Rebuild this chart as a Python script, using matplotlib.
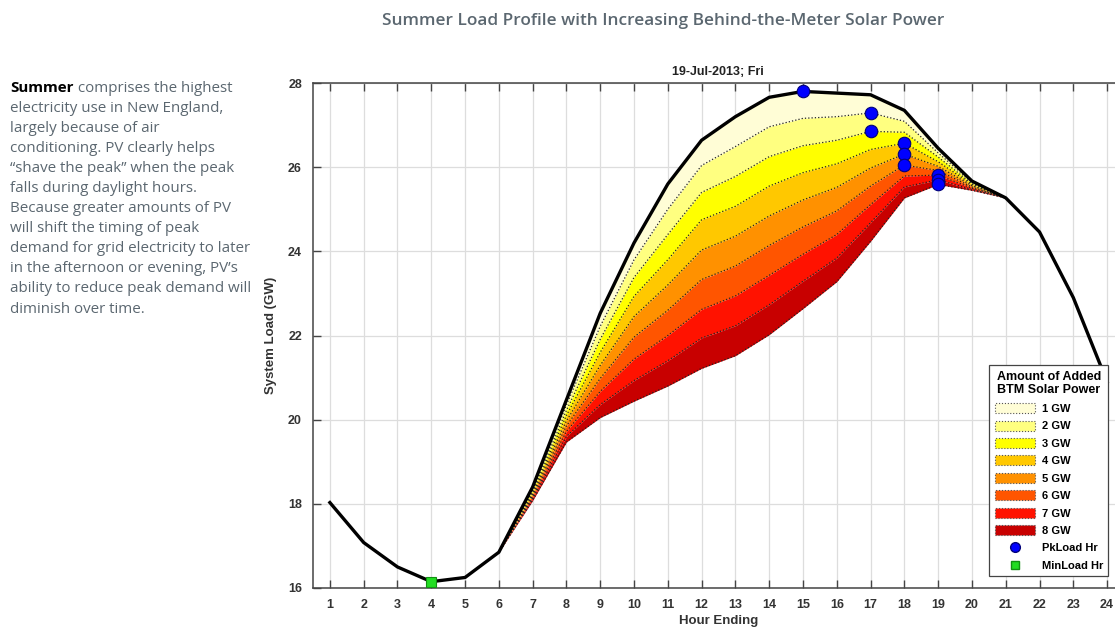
import numpy as np
import matplotlib.pyplot as plt
from matplotlib.patches import Patch
from matplotlib.lines import Line2D

# hourly system load, 19-Jul-2013 (GW)
hours = np.arange(1, 25)
base_load = [18.03, 17.08, 16.50, 16.15, 16.25, 16.85, 18.40, 20.47, 22.53, 24.20, 25.60, 26.64,
             27.20, 27.66, 27.80, 27.76, 27.72, 27.35, 26.45, 25.67, 25.27, 24.46, 22.90, 20.90]

# load net of added BTM solar, hours 6..21 (outside these the curves equal the base load)
pv_hours = np.arange(6, 22)
net_1gw = [16.85, 18.36, 20.35, 22.22, 23.80, 25.00, 26.04, 26.49, 26.96, 27.16, 27.20, 27.29, 27.09, 26.34, 25.64, 25.27]
net_2gw = [16.85, 18.32, 20.22, 21.91, 23.38, 24.40, 25.40, 25.78, 26.25, 26.51, 26.64, 26.85, 26.83, 26.24, 25.61, 25.27]
net_3gw = [16.85, 18.28, 20.10, 21.60, 22.93, 23.80, 24.75, 25.07, 25.55, 25.87, 26.08, 26.42, 26.57, 26.13, 25.59, 25.27]
net_4gw = [16.85, 18.24, 19.97, 21.29, 22.45, 23.20, 24.03, 24.36, 24.84, 25.22, 25.52, 25.98, 26.31, 26.02, 25.56, 25.27]
net_5gw = [16.85, 18.20, 19.85, 20.98, 21.96, 22.60, 23.33, 23.65, 24.14, 24.58, 24.96, 25.55, 26.05, 25.92, 25.53, 25.27]
net_6gw = [16.85, 18.16, 19.72, 20.67, 21.44, 22.00, 22.62, 22.94, 23.43, 23.93, 24.40, 25.11, 25.79, 25.81, 25.50, 25.27]
net_7gw = [16.85, 18.12, 19.60, 20.36, 20.93, 21.40, 21.94, 22.23, 22.73, 23.29, 23.84, 24.68, 25.53, 25.70, 25.47, 25.27]
net_8gw = [16.85, 18.08, 19.47, 20.05, 20.44, 20.80, 21.22, 21.52, 22.02, 22.64, 23.28, 24.24, 25.27, 25.59, 25.45, 25.27]
layers = [net_1gw, net_2gw, net_3gw, net_4gw, net_5gw, net_6gw, net_7gw, net_8gw]
layer_labels = ['1 GW', '2 GW', '3 GW', '4 GW', '5 GW', '6 GW', '7 GW', '8 GW']
layer_colors = ['#FFFDD6', '#FFFF80', '#FFFF00', '#FFC800', '#FF9100', '#FF5500', '#FF1200', '#C80000']

chart_font = 'Liberation Sans'
page_font = 'Open Sans'
grey_text = '#5b6770'

fig = plt.figure(figsize=(11.15, 6.3), dpi=100)

# chart
ax = fig.add_axes([313 / 1115, 42 / 630, 811 / 1115, 505 / 630])
ax.set_xlim(0.5, 24.5)
ax.set_ylim(16, 28)

# page title and side text
fig.text(0.595, 0.966, 'Summer Load Profile with Increasing Behind-the-Meter Solar Power',
         ha='center', va='center', fontsize=12.4, fontweight='semibold',
         family=page_font, color=grey_text)

side_lines = ['electricity use in New England,',
              'largely because of air',
              'conditioning. PV clearly helps',
              '\u201cshave the peak\u201d when the peak',
              'falls during daylight hours.',
              'Because greater amounts of PV',
              'will shift the timing of peak',
              'demand for grid electricity to later',
              'in the afternoon or evening, PV\u2019s',
              'ability to reduce peak demand will',
              'diminish over time.']
x0 = 10 / 1115
y0 = 1 - 88 / 630
step = 20.1 / 630
t = fig.text(x0, y0, 'Summer', fontsize=10.9, fontweight='bold', family=page_font,
             color='black', va='center')
ax.annotate(' comprises the highest', xy=(1, 0.5), xycoords=t, va='center',
            fontsize=10.9, family=page_font, color=grey_text, annotation_clip=False)
for i, line in enumerate(side_lines):
    fig.text(x0, y0 - (i + 1) * step, line, fontsize=10.9, family=page_font,
             color=grey_text, va='center')

upper = base_load[5:21]
for vals, col in zip(layers, layer_colors):
    ax.fill_between(pv_hours, upper, vals, color=col, linewidth=0, zorder=2)
    ax.plot(pv_hours, vals, color='#222222', linestyle=':', linewidth=0.9, zorder=3)
    upper = vals

ax.plot(hours, base_load, color='black', linewidth=2.4, zorder=4)

# peak hour markers (base + each added solar case) and min load marker
pk_x = [hours[int(np.argmax(base_load))]]
pk_y = [max(base_load)]
for vals in layers:
    j = int(np.argmax(vals))
    pk_x.append(pv_hours[j])
    pk_y.append(vals[j])
ax.plot(pk_x, pk_y, linestyle='none', marker='o', markersize=9,
        markerfacecolor='#0000FF', markeredgecolor='#00007A', markeredgewidth=0.8, zorder=5)
imin = int(np.argmin(base_load))
ax.plot(hours[imin], base_load[imin], linestyle='none', marker='s', markersize=7,
        markerfacecolor='#22DD22', markeredgecolor='#129012', markeredgewidth=0.8, zorder=5)

ax.set_xticks(hours)
ax.set_yticks(np.arange(16, 29, 2))
ax.grid(True, color='#dddddd', linewidth=0.9, zorder=0)
ax.set_axisbelow(True)
ax.tick_params(direction='in', length=6, width=1, colors='#444444', top=True, right=True,
               labelsize=9, pad=8)
for lab in ax.get_xticklabels() + ax.get_yticklabels():
    lab.set_fontweight('bold')
    lab.set_family(chart_font)
    lab.set_color('#333333')
for sp in ax.spines.values():
    sp.set_color('#444444')
    sp.set_linewidth(1.1)

ax.set_xlabel('Hour Ending', fontsize=9.5, fontweight='bold', family=chart_font,
              color='#333333', labelpad=3)
ax.set_ylabel('System Load (GW)', fontsize=9.5, fontweight='bold', family=chart_font,
              color='#333333', labelpad=8)
fig.text(718 / 1115, 1 - 72 / 630, '19-Jul-2013; Fri', ha='center', va='center',
         fontsize=9, fontweight='bold', family=chart_font, color='#222222')

# legend
handles = [Patch(facecolor=c, edgecolor='#555555', linestyle=':', linewidth=0.8)
           for c in layer_colors]
handles.append(Line2D([], [], linestyle='none', marker='o', markersize=7,
                      markerfacecolor='#0000FF', markeredgecolor='#00007A'))
handles.append(Line2D([], [], linestyle='none', marker='s', markersize=5.5,
                      markerfacecolor='#22DD22', markeredgecolor='#129012'))
labels = layer_labels + ['PkLoad Hr', 'MinLoad Hr']
leg = fig.legend(handles, labels, loc='lower right',
                 bbox_to_anchor=(1114 / 1115, 1 - 582 / 630),
                 title='Amount of Added\nBTM Solar Power',
                 prop={'family': chart_font, 'weight': 'bold', 'size': 8},
                 title_fontproperties={'family': chart_font, 'weight': 'bold', 'size': 9},
                 handlelength=3.6, handleheight=1.0, labelspacing=0.6,
                 borderpad=0.5, handletextpad=0.6, fancybox=False, framealpha=1,
                 edgecolor='#444444')
leg.get_frame().set_linewidth(0.9)
leg.set_zorder(10)

fig.savefig('out.png', dpi=100)
